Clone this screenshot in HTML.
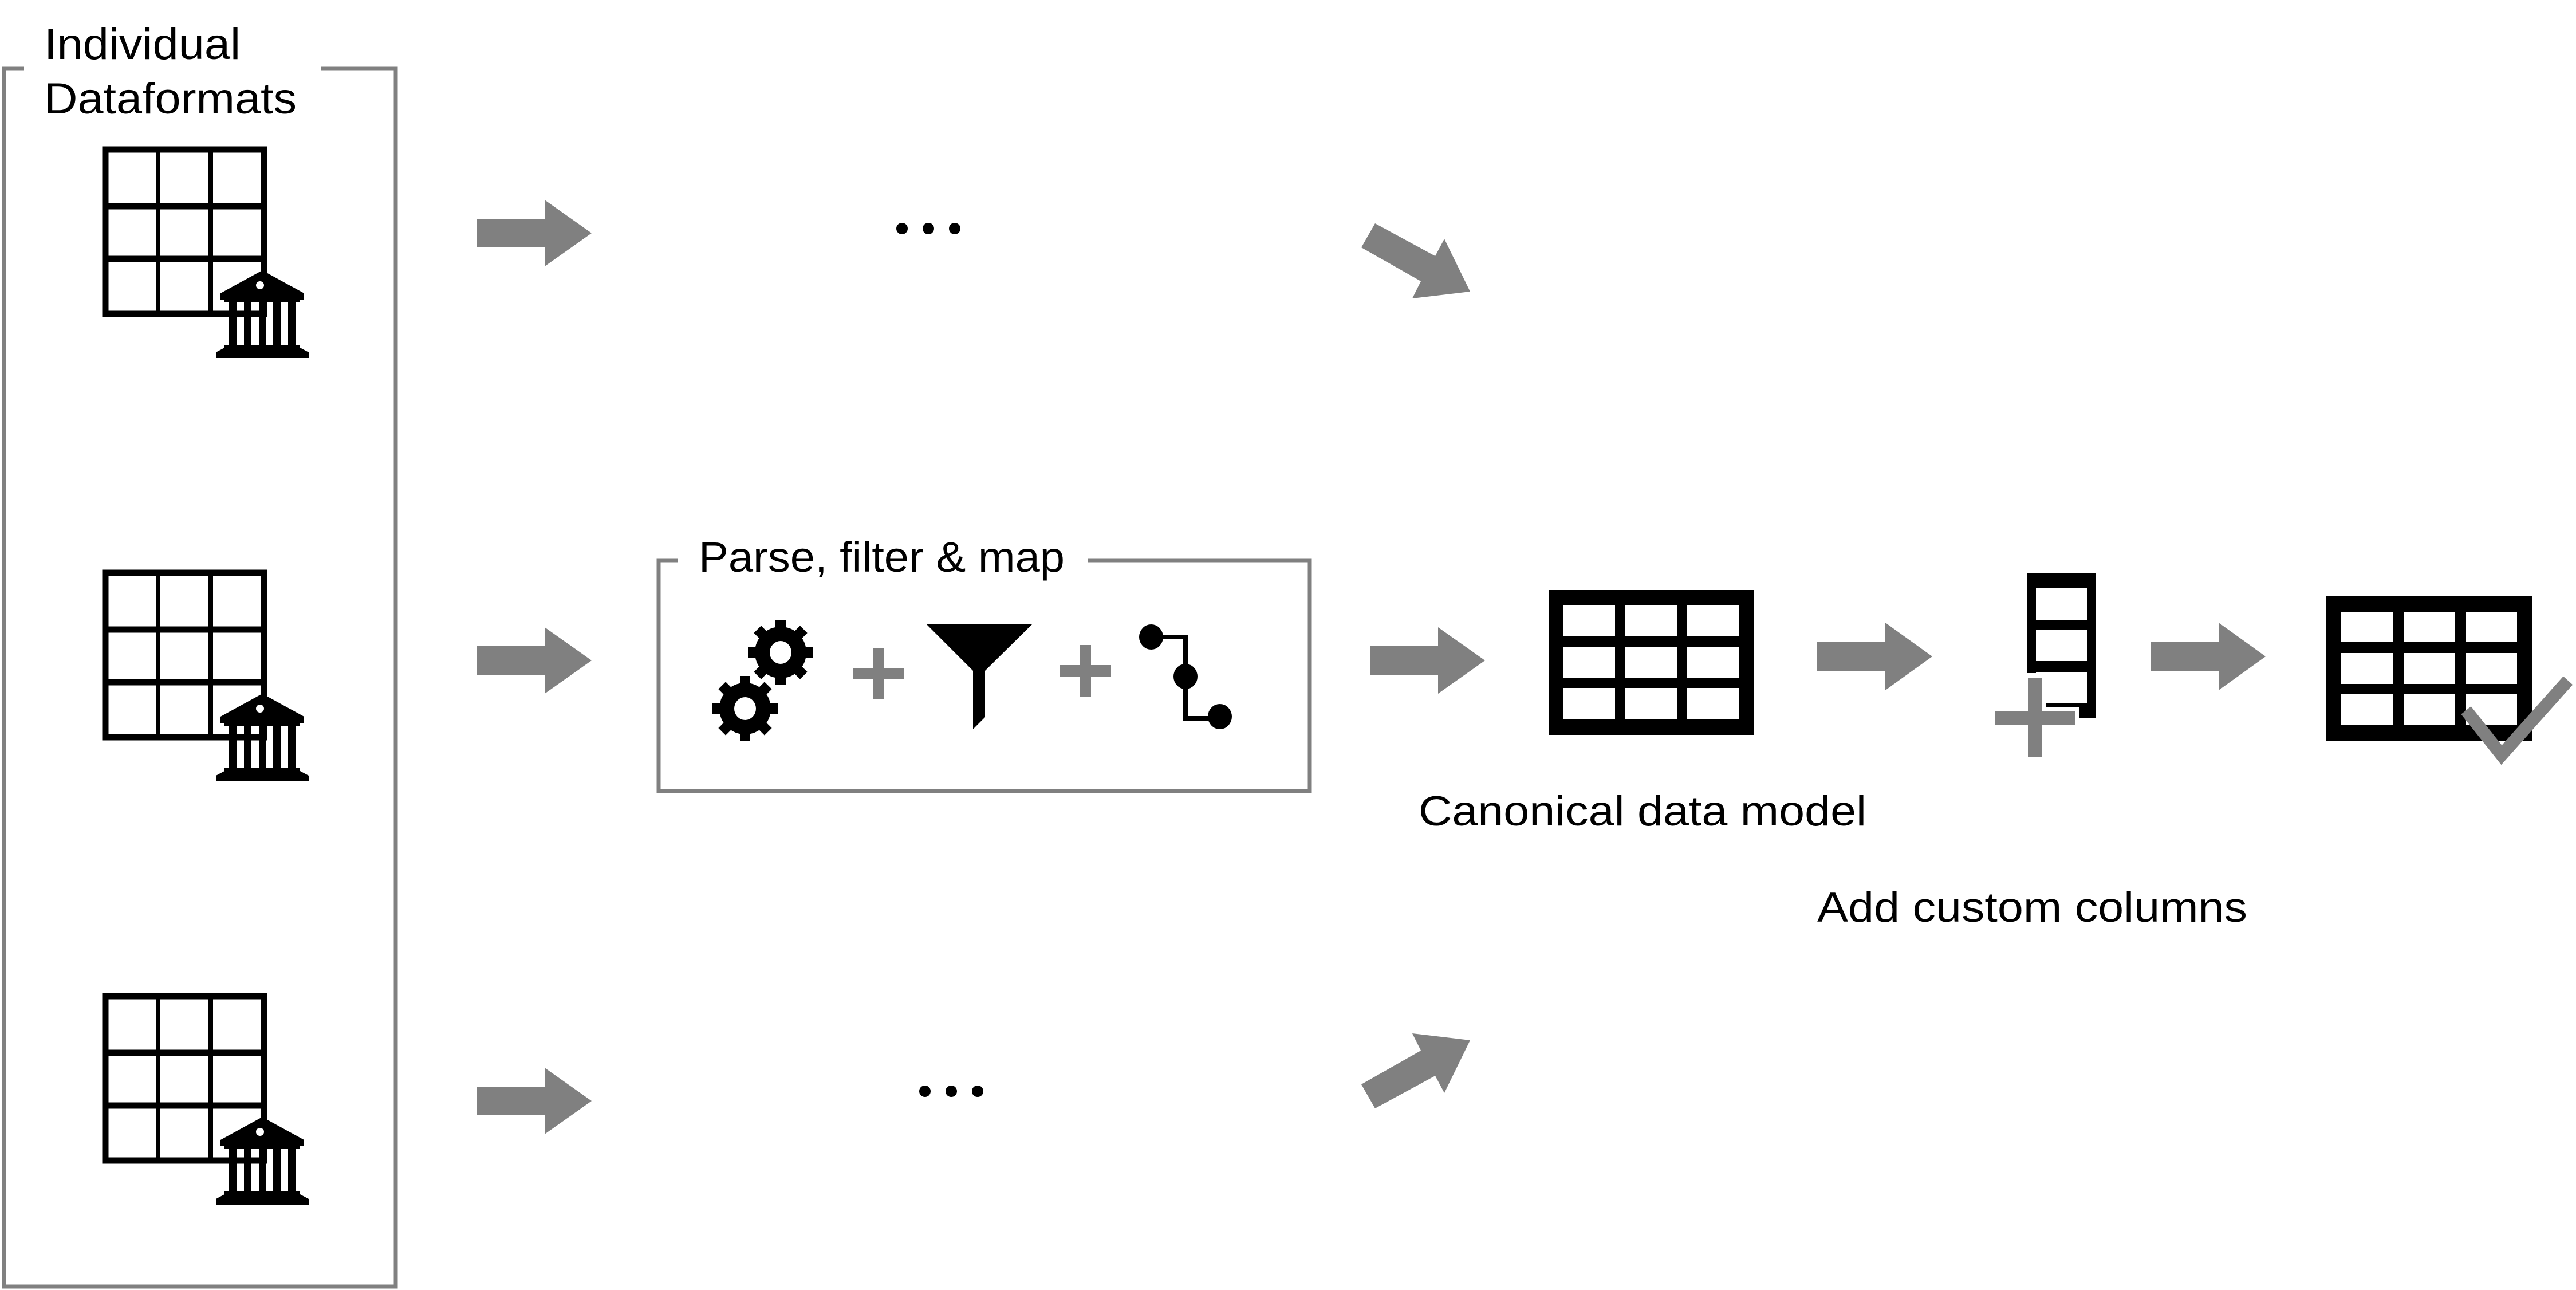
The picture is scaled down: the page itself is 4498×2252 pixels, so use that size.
<!DOCTYPE html>
<html><head><meta charset="utf-8"><style>html,body{margin:0;padding:0;background:#fff}svg{display:block}</style></head>
<body>
<svg width="4498" height="2252" viewBox="0 0 4498 2252" xmlns="http://www.w3.org/2000/svg">
<defs>
<g id="grid">
  <rect x="184" y="261" width="277" height="287" fill="none" stroke="#000" stroke-width="11"/>
  <line x1="184" y1="360" x2="461" y2="360" stroke="#000" stroke-width="11"/>
  <line x1="184" y1="452" x2="461" y2="452" stroke="#000" stroke-width="11"/>
  <line x1="276" y1="261" x2="276" y2="548" stroke="#000" stroke-width="8"/>
  <line x1="368" y1="261" x2="368" y2="548" stroke="#000" stroke-width="8"/>
  <g fill="#000">
    <polygon points="385,512 458,472 531,512 531,523 524,523 524,528 392,528 392,523 385,523"/>
    <rect x="400" y="528" width="13" height="74"/>
    <rect x="426" y="528" width="13" height="74"/>
    <rect x="452" y="528" width="13" height="74"/>
    <rect x="477" y="528" width="13" height="74"/>
    <rect x="503" y="528" width="13" height="74"/>
    <polygon points="392,602 524,602 524,607 539,615 539,625 377,625 377,615 392,607"/>
  </g>
  <circle cx="454" cy="498" r="7" fill="#fff"/>
</g>
<g id="gear">
  <g fill="#000">
    <circle cx="0" cy="0" r="45"/>
    <rect x="-9" y="-57" width="18" height="114"/>
    <rect x="-9" y="-57" width="18" height="114" transform="rotate(45)"/>
    <rect x="-9" y="-57" width="18" height="114" transform="rotate(90)"/>
    <rect x="-9" y="-57" width="18" height="114" transform="rotate(135)"/>
  </g>
  <ellipse cx="0" cy="0" rx="19" ry="20" fill="#fff"/>
</g>
</defs>

<!-- Left container -->
<polyline points="42,120 7,120 7,2246 691,2246 691,120 560,120" fill="none" stroke="#808080" stroke-width="7"/>
<text x="77" y="103" font-family="Liberation Sans, sans-serif" font-size="76" textLength="343" lengthAdjust="spacingAndGlyphs">Individual</text>
<text x="77" y="198" font-family="Liberation Sans, sans-serif" font-size="76" textLength="441" lengthAdjust="spacingAndGlyphs">Dataformats</text>

<use href="#grid"/>
<use href="#grid" transform="translate(0,739)"/>
<use href="#grid" transform="translate(0,1478)"/>

<!-- gray arrows -->
<g fill="#808080">
  <polygon points="833,382 951,382 951,349 1033,407 951,465 951,432 833,432"/>
  <polygon points="833,1128 951,1128 951,1095 1033,1153 951,1211 951,1178 833,1178"/>
  <polygon points="833,1897 951,1897 951,1864 1033,1922 951,1980 951,1947 833,1947"/>
  <polygon points="2393,1128 2511,1128 2511,1095 2593,1153 2511,1211 2511,1178 2393,1178"/>
  <polygon points="3173,1121 3292,1121 3292,1087 3374,1146 3292,1205 3292,1171 3173,1171"/>
  <polygon points="3756,1121 3874,1121 3874,1087 3956,1146 3874,1205 3874,1171 3756,1171"/>
  <polygon points="2401,390 2506,447 2522,417 2567,509 2466,521 2481,491 2377,432"/>
  <polygon points="2401,1935 2506,1878 2522,1908 2567,1816 2466,1804 2481,1834 2377,1893"/>
</g>

<!-- dots -->
<g fill="#000">
  <circle cx="1575" cy="399" r="10"/><circle cx="1621" cy="399" r="10"/><circle cx="1667" cy="399" r="10"/>
  <circle cx="1615" cy="1905" r="10"/><circle cx="1661" cy="1905" r="10"/><circle cx="1707" cy="1905" r="10"/>
</g>

<!-- Parse box -->
<polyline points="1183,978 1150,978 1150,1381 2287,1381 2287,978 1900,978" fill="none" stroke="#808080" stroke-width="7"/>
<text x="1220" y="998" font-family="Liberation Sans, sans-serif" font-size="74" textLength="639" lengthAdjust="spacingAndGlyphs">Parse, filter &amp; map</text>
<use href="#gear" transform="translate(1363,1139)"/>
<use href="#gear" transform="translate(1301,1237)"/>
<g fill="#808080">
  <rect x="1490" y="1166" width="89" height="20"/><rect x="1524" y="1131" width="20" height="90"/>
  <rect x="1851" y="1161" width="89" height="20"/><rect x="1885" y="1126" width="20" height="90"/>
</g>
<polygon points="1618,1090 1802,1090 1720,1171 1720,1252 1699,1273 1699,1171" fill="#000"/>
<polyline points="2010,1112 2070,1112 2070,1254 2130,1254" fill="none" stroke="#000" stroke-width="8"/>
<g fill="#000">
  <ellipse cx="2010" cy="1112" rx="21" ry="22"/>
  <ellipse cx="2070" cy="1181" rx="21" ry="22"/>
  <ellipse cx="2130" cy="1251" rx="21" ry="22"/>
</g>

<!-- Canonical table -->
<rect x="2704" y="1030" width="358" height="253" fill="#000"/>
<g fill="#fff">
  <rect x="2730" y="1057" width="90" height="54"/><rect x="2838" y="1057" width="90" height="54"/><rect x="2945" y="1057" width="91" height="54"/>
  <rect x="2730" y="1129" width="90" height="54"/><rect x="2838" y="1129" width="90" height="54"/><rect x="2945" y="1129" width="91" height="54"/>
  <rect x="2730" y="1201" width="90" height="54"/><rect x="2838" y="1201" width="90" height="54"/><rect x="2945" y="1201" width="91" height="54"/>
</g>
<text x="2477" y="1441" font-family="Liberation Sans, sans-serif" font-size="73" textLength="782" lengthAdjust="spacingAndGlyphs">Canonical data model</text>

<!-- Column icon -->
<g fill="#000">
  <rect x="3539" y="1000" width="16" height="175"/>
  <rect x="3539" y="1000" width="121" height="27"/>
  <rect x="3645" y="1000" width="15" height="254"/>
  <rect x="3555" y="1082" width="90" height="18"/>
  <rect x="3555" y="1154" width="90" height="19"/>
  <rect x="3573" y="1227" width="72" height="7"/>
  <rect x="3631" y="1234" width="29" height="20"/>
</g>
<g fill="#808080">
  <rect x="3542" y="1183" width="24" height="139"/>
  <rect x="3484" y="1241" width="140" height="24"/>
</g>
<text x="3173" y="1609" font-family="Liberation Sans, sans-serif" font-size="73" textLength="751" lengthAdjust="spacingAndGlyphs">Add custom columns</text>

<!-- Final table -->
<rect x="4061" y="1040" width="361" height="254" fill="#000"/>
<g fill="#fff">
  <rect x="4088" y="1068" width="91" height="53"/><rect x="4197" y="1068" width="90" height="53"/><rect x="4306" y="1068" width="89" height="53"/>
  <rect x="4088" y="1140" width="91" height="54"/><rect x="4197" y="1140" width="90" height="54"/><rect x="4306" y="1140" width="89" height="54"/>
  <rect x="4088" y="1212" width="91" height="54"/><rect x="4197" y="1212" width="90" height="54"/><rect x="4306" y="1212" width="89" height="54"/>
</g>
<polyline points="4306,1240 4368,1318 4484,1188" fill="none" stroke="#808080" stroke-width="22"/>
</svg>
</body></html>
